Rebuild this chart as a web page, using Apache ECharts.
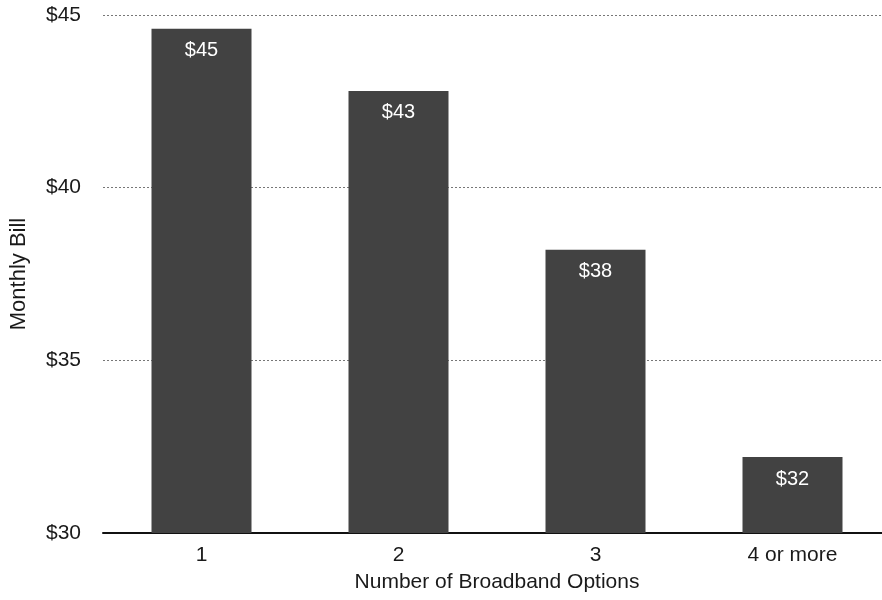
<!DOCTYPE html>
<html>
<head>
<meta charset="utf-8">
<script src="https://cdn.jsdelivr.net/npm/echarts@6/dist/echarts.min.js"></script>
<style>
  html, body { margin: 0; padding: 0; background: #fff; }
  #chart { width: 882px; height: 600px; }
</style>
</head>
<body>
<div id="chart"></div>
<script>
const categories = ['1', '2', '3', '4 or more']
const monthlyBill = [44.6, 42.8, 38.2, 32.2]
const billLabels = ['$45', '$43', '$38', '$32']

const font = 'Liberation Sans, Arial, sans-serif'
const chart = echarts.init(document.getElementById('chart'))

chart.setOption({
  animation: false,
  backgroundColor: '#fff',
  // plot runs off the right edge a little, like the scan
  grid: { left: 103, width: 788, top: 15, bottom: 67, outerBoundsMode: 'none', containLabel: false },
  xAxis: {
    type: 'category',
    data: categories,
    name: 'Number of Broadband Options',
    nameLocation: 'middle',
    nameGap: 39,
    nameTextStyle: { color: '#1a1a1a', fontSize: 21, fontFamily: font },
    axisLine: { lineStyle: { color: '#111', width: 2 } },
    axisTick: { show: false },
    axisLabel: { color: '#1a1a1a', fontSize: 21, fontFamily: font, margin: 12 }
  },
  yAxis: {
    type: 'value',
    min: 30,
    max: 45,
    interval: 5,
    name: 'Monthly Bill',
    nameLocation: 'middle',
    nameGap: 73,
    nameTextStyle: { color: '#1a1a1a', fontSize: 22, fontFamily: font },
    axisLine: { show: false },
    axisTick: { show: false },
    axisLabel: {
      color: '#1a1a1a', fontSize: 21, fontFamily: font, margin: 22,
      formatter: v => '$' + v
    },
    splitLine: { lineStyle: { color: '#777', type: [2, 2], width: 1 } }
  },
  series: [
    {
      type: 'bar',
      data: monthlyBill,
      barWidth: 100,
      itemStyle: { color: '#424242' },
      label: {
        show: true,
        position: 'insideTop',
        distance: 12,
        color: '#fff',
        fontSize: 20,
        fontFamily: font,
        formatter: p => billLabels[p.dataIndex]
      }
    }
  ]
})
</script>
</body>
</html>
